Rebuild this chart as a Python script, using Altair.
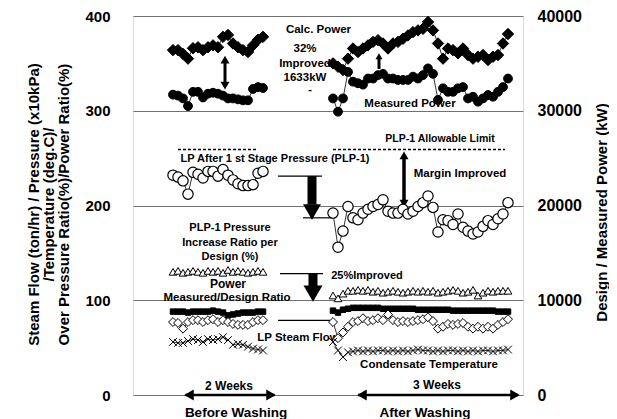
import altair as alt
import pandas as pd

FONT = "Liberation Sans"

# reading positions (sample number along the time line)
before_idx = list(range(8, 27))   # 19 readings before washing
after_idx = list(range(40, 76))   # 36 readings after washing

# right axis (kW)
calc_before = [36400, 36400, 36000, 35500, 36600, 36700, 36400, 36700, 36900, 36700,
               37800, 38000, 37100, 36700, 36400, 36200, 36900, 37500, 37800]
calc_after = [35000, 34650, 34300, 35500, 36570, 36200, 36570, 36900, 37270, 37450,
              37100, 36570, 37100, 37270, 37600, 37950, 38300, 38480, 38650, 39370,
              38480, 37100, 35500, 36570, 36400, 36060, 36570, 35880, 35500, 35700,
              35880, 35360, 35700, 35880, 37100, 38100]
meas_before = [31700, 31600, 31300, 30500, 32000, 32000, 31400, 31800, 31900, 31800,
               31600, 31300, 31300, 31200, 31100, 31100, 32300, 32500, 32400]
meas_after = [31300, 29900, 31300, 34100, 33070, 32900, 32760, 33400, 33400, 33760,
              33900, 33400, 33400, 33250, 33250, 33250, 33600, 33400, 33760, 34470,
              33900, 31150, 32370, 32000, 32000, 32370, 32500, 31300, 31480, 30960,
              31300, 31660, 31480, 32000, 32500, 33400]

# left axis
plp_before = [232, 230, 226, 212, 235, 233, 229, 236, 236, 231, 238, 232, 227, 223,
              221, 221, 222, 234, 236]
plp_after = [192, 156, 173, 199, 187, 185, 192, 196, 199, 201, 206, 194, 192, 192,
             196, 191, 194, 199, 203, 210, 198, 172, 185, 184, 180, 191, 177, 173,
             170, 172, 178, 184, 180, 186, 191, 203]
ratio_before = [130, 131, 129, 130, 131, 130, 129, 131, 130, 131, 129, 132, 130, 131,
                130, 129, 130, 131, 130]
ratio_after = [105, 102, 107, 110, 110, 111, 110, 111, 109, 110, 108, 109, 110, 109,
               108, 109, 110, 109, 110, 109, 110, 108, 109, 110, 111, 110, 108, 109,
               111, 105, 108, 110, 109, 110, 110, 110]
design_before = [88, 88, 88, 87, 88, 88, 88, 88, 89, 88, 87, 84, 85, 86, 87, 87, 87, 88, 88]
design_after = [89, 87, 90, 91, 92, 92, 92, 92, 92, 92, 91, 91, 91, 91, 91, 91, 91, 90,
                90, 90, 90, 90, 90, 90, 89, 89, 89, 89, 89, 89, 89, 89, 89, 88, 88, 88]
flow_before = [77, 76, 70, 77, 79, 79, 77, 79, 80, 77, 79, 77, 75, 74, 74, 74, 77, 79, 79]
flow_after = [77, 60, 66, 72, 77, 78, 81, 78, 79, 81, 79, 85, 79, 77, 78, 77, 78, 79,
              80, 82, 78, 70, 72, 75, 74, 75, 76, 72, 70, 72, 70, 72, 70, 74, 77, 80]
temp_before = [56, 55, 55, 57, 59, 58, 56, 59, 58, 59, 61, 58, 53, 54, 53, 51, 49, 48, 47]
temp_after = [56, 47, 40, 45, 46, 47, 46, 47, 46, 47, 47, 46, 47, 46, 47, 46, 47, 48,
              47, 47, 46, 47, 46, 47, 47, 46, 47, 46, 47, 46, 47, 47, 46, 47, 47, 48]

# allowable limit (left units)
limit_value = 259
limit_x = [9, 40]
limit_x2 = [24.8, 74.4]

# annotations
ann_text = ["Calc. Power", "32%", "Improved", "1633kW", "-", "Measured Power",
            "PLP-1 Allowable Limit", "LP After 1 st Stage Pressure (PLP-1)",
            "Margin Improved", "PLP-1  Pressure", "Increase Ratio per", "Design (%)",
            "Power", "Measured/Design Ratio", "25%Improved", "LP Steam Flow",
            "Condensate Temperature", "2 Weeks", "3 Weeks", "Before Washing", "After Washing"]
ann_x = [37.1, 34.4, 34.4, 34.4, 35.4, 55.4, 61.4, 28.4, 65.4, 19.4, 19.4, 19.4,
         19.0, 18.8, 46.8, 33.0, 59.2, 19.2, 60.8, 20.6, 58.4]
ann_y = [385, 365.4, 349.6, 334.6, 321.5, 306.6, 269.8, 248.8, 233, 176.4, 160.6, 146,
         117.6, 102.9, 126, 59.8, 31.5, 9.4, 10.5, -18.9, -18.9]
ann_size = [11.5, 11.5, 11.5, 11.5, 11, 11.5, 10.5, 11, 11.5, 11, 11, 11,
            12, 11.5, 11, 11.5, 11.5, 12, 12, 13.5, 13.5]

# arrow shafts / pointer lines
rule_x = [18.4, 49.2, 29, 35.8, 34, 54.2, 29.4, 36, 29, 10.5, 45]
rule_x2 = [18.4, 49.2, 37.8, 35.8, 40, 54.2, 38, 36, 39.4, 28.3, 77]
rule_y = [327, 344, 231, 231, 187, 204, 128, 128, 78.7, 0, 0]
rule_y2 = [354, 356, 231, 201, 187, 252, 128, 112, 78.7, 0, 0]
rule_w = [3, 3, 1.2, 9, 1.2, 3.5, 1.2, 9, 1.2, 2.5, 2.5]

# arrow heads
head_x = [18.4, 18.4, 49.2, 35.8, 54.2, 54.2, 36, 11.2, 27.6, 45.8, 76.4]
head_y = [354, 326.5, 357.5, 193.2, 253, 202, 107, 0, 0, 0, 0]
head_shape = ["triangle-up", "triangle-down", "triangle-up", "triangle-down",
              "triangle-up", "triangle-down", "triangle-down", "triangle-left",
              "triangle-right", "triangle-left", "triangle-right"]
head_size = [80, 80, 50, 324, 80, 80, 360, 120, 120, 120, 120]


def series(before, after):
    return pd.DataFrame({
        "idx": before_idx + after_idx,
        "value": before + after,
        "period": ["before"] * len(before) + ["after"] * len(after),
    })


xscale = alt.Scale(domain=[0, 78], nice=False, zero=False)
X = alt.X("idx:Q", scale=xscale, axis=None)

left_axis = alt.Axis(
    values=[0, 100, 200, 300, 400], grid=True, gridColor="#707070", gridWidth=1,
    ticks=False, domain=False, labelFont=FONT, labelFontSize=15, labelFontWeight="bold",
    labelColor="black", labelPadding=23,
    title=["Steam Flow (ton/hr) / Pressure (x10kPa)", "/Temperature (deg.C)/",
           "Over Pressure Ratio(%)/Power Ratio(%)"],
    titleFont=FONT, titleFontSize=15, titleFontWeight="bold", titleColor="black",
    titleAngle=270, titleX=-100, titleY=188, titleLineHeight=15,
    titleAlign="center", titleBaseline="middle")
right_axis = alt.Axis(
    orient="right", values=[0, 10000, 20000, 30000, 40000], format="d", grid=False,
    ticks=False, domain=False, labelFont=FONT, labelFontSize=16, labelFontWeight="bold",
    labelColor="black", labelPadding=14,
    title="Design / Measured Power  (kW)", titleFont=FONT, titleFontSize=15,
    titleFontWeight="bold", titleColor="black", titleAngle=270, titleX=78, titleY=196,
    titleAlign="center", titleBaseline="middle")

yl_scale = alt.Scale(domain=[0, 400], nice=False)
yr_scale = alt.Scale(domain=[0, 40000], nice=False)


def YL(field="value"):
    return alt.Y(f"{field}:Q", scale=yl_scale, axis=left_axis)


def YR(field="value"):
    return alt.Y(f"{field}:Q", scale=yr_scale, axis=right_axis)


def line_points(df, Y, shape, size, filled, stroke_w=1.0, line_w=0.8):
    base = alt.Chart(df)
    ln = base.mark_line(color="black", strokeWidth=line_w).encode(
        x=X, y=Y, detail="period:N")
    pt = base.mark_point(shape=shape, size=size, filled=True,
                         fill="black" if filled else "white", stroke="black",
                         strokeWidth=stroke_w, opacity=1).encode(x=X, y=Y)
    return [ln, pt]


ann_df = pd.DataFrame({"text": ann_text, "x": ann_x, "y": ann_y, "size": ann_size})
texts = alt.Chart(ann_df).mark_text(font=FONT, fontWeight="bold", color="black",
                                    baseline="middle", align="center").encode(
    x=alt.X("x:Q", scale=xscale, axis=None), y=YL("y"), text="text:N",
    size=alt.Size("size:Q", scale=None, legend=None))

limit_df = pd.DataFrame({"x": limit_x, "x2": limit_x2, "y": [limit_value] * 2})
limits = alt.Chart(limit_df).mark_rule(color="black", strokeWidth=1.5,
                                       strokeDash=[3, 2]).encode(
    x=alt.X("x:Q", scale=xscale, axis=None), x2="x2:Q", y=YL("y"))

rule_df = pd.DataFrame({"x": rule_x, "x2": rule_x2, "y": rule_y, "y2": rule_y2, "w": rule_w})
rules = alt.Chart(rule_df).mark_rule(color="black").encode(
    x=alt.X("x:Q", scale=xscale, axis=None), x2="x2:Q", y=YL("y"), y2="y2:Q",
    strokeWidth=alt.StrokeWidth("w:Q", scale=None, legend=None))

head_df = pd.DataFrame({"x": head_x, "y": head_y, "shape": head_shape, "size": head_size})
heads = alt.Chart(head_df).mark_point(filled=True, color="black", opacity=1).encode(
    x=alt.X("x:Q", scale=xscale, axis=None), y=YL("y"),
    shape=alt.Shape("shape:N", scale=None, legend=None),
    size=alt.Size("size:Q", scale=None, legend=None))

xshape = "M-1,-1L1,1M-1,1L1,-1"

left_layers = [texts, limits, rules, heads]
left_layers += line_points(series(plp_before, plp_after), YL(), "circle", 106, False, 1.2)
left_layers += line_points(series(ratio_before, ratio_after), YL(), "triangle-up", 60, False, 1.0)
left_layers += line_points(series(design_before, design_after), YL(), "square", 30, True, 1.0, 2)
left_layers += line_points(series(flow_before, flow_after), YL(), "diamond", 80, False, 1.0)
left_layers += line_points(series(temp_before, temp_after), YL(), xshape, 60, False, 1.0)

right_layers = []
right_layers += line_points(series(calc_before, calc_after), YR(), "diamond", 130, True, 1.0)
right_layers += line_points(series(meas_before, meas_after), YR(), "circle", 78, True, 1.0)

left = alt.layer(*left_layers)
right = alt.layer(*right_layers)

chart = alt.layer(left, right).resolve_scale(y="independent").properties(
    width=390, height=379,
    padding={"left": 125, "top": 8, "right": 86, "bottom": 24},
    autosize="none",
).configure_view(stroke="#888888", strokeWidth=1).configure(background="white")

chart.save("out.html", embed_options={"renderer": "svg", "actions": False})
